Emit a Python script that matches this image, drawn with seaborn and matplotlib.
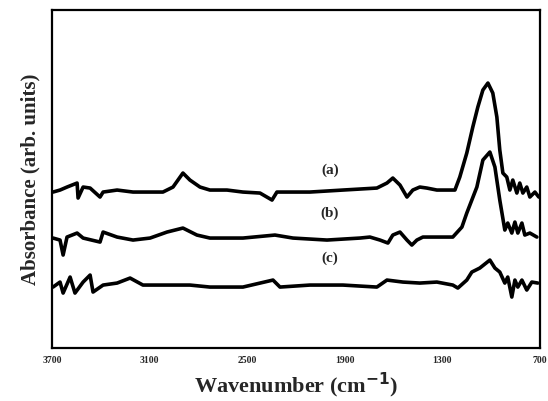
import matplotlib
matplotlib.use("Agg")
import matplotlib.pyplot as plt
import pandas as pd
import seaborn as sns

# spectra (wavenumber in cm-1, absorbance in arb. units, stacked)
wn_a = [3694, 3651, 3608, 3546, 3540, 3509, 3466, 3405, 3386, 3300, 3202, 3097, 3018, 2956,
        2895, 2852, 2790, 2729, 2624, 2526, 2421, 2347, 2317, 2218, 2114, 1911, 1702, 1640,
        1604, 1560, 1517, 1481, 1438, 1395, 1333, 1222, 1192, 1149, 1112, 1081, 1050, 1019,
        989, 964, 946, 927, 903, 884, 866, 841, 823, 804, 780, 761, 730, 706]
abs_a = [1.56, 1.58, 1.61, 1.65, 1.50, 1.61, 1.60, 1.51, 1.56, 1.58, 1.56, 1.56, 1.56, 1.61,
         1.75, 1.68, 1.61, 1.58, 1.58, 1.56, 1.55, 1.48, 1.56, 1.56, 1.56, 1.58, 1.60, 1.65,
         1.70, 1.63, 1.51, 1.58, 1.61, 1.60, 1.58, 1.58, 1.71, 1.95, 2.21, 2.41, 2.58, 2.65,
         2.55, 2.31, 1.98, 1.75, 1.71, 1.58, 1.68, 1.55, 1.65, 1.55, 1.61, 1.51, 1.56, 1.51]

wn_b = [3694, 3651, 3632, 3608, 3546, 3509, 3405, 3386, 3300, 3202, 3097, 2993, 2895, 2809,
        2729, 2526, 2329, 2218, 2009, 1806, 1745, 1683, 1634, 1604, 1560, 1517, 1487, 1456,
        1419, 1333, 1235, 1179, 1149, 1118, 1087, 1050, 1007, 976, 946, 915, 897, 872, 853,
        835, 810, 792, 761, 718]
abs_b = [1.10, 1.08, 0.93, 1.11, 1.15, 1.10, 1.06, 1.16, 1.11, 1.08, 1.10, 1.16, 1.20, 1.13,
         1.10, 1.10, 1.13, 1.10, 1.08, 1.10, 1.11, 1.08, 1.05, 1.13, 1.16, 1.08, 1.03, 1.08,
         1.11, 1.11, 1.11, 1.21, 1.35, 1.48, 1.61, 1.88, 1.96, 1.81, 1.48, 1.18, 1.25, 1.15,
         1.26, 1.15, 1.25, 1.13, 1.15, 1.11]

wn_c = [3694, 3651, 3632, 3589, 3559, 3509, 3466, 3448, 3386, 3300, 3220, 3141, 2993, 2852,
        2729, 2526, 2341, 2298, 2114, 1911, 1702, 1640, 1542, 1438, 1333, 1235, 1204, 1149,
        1118, 1069, 1007, 976, 946, 915, 897, 872, 853, 835, 810, 780, 749, 712]
abs_c = [0.61, 0.66, 0.55, 0.71, 0.55, 0.66, 0.73, 0.56, 0.63, 0.65, 0.70, 0.63, 0.63, 0.63,
         0.61, 0.61, 0.68, 0.61, 0.63, 0.63, 0.61, 0.68, 0.66, 0.65, 0.66, 0.63, 0.60, 0.68,
         0.76, 0.80, 0.88, 0.80, 0.76, 0.65, 0.71, 0.51, 0.68, 0.61, 0.68, 0.58, 0.66, 0.65]

labels = ['(a)', '(b)', '(c)']
label_pos = [1.78, 1.35, 0.90]
xticks = [3700, 3100, 2500, 1900, 1300, 700]

sns.set_style('white')
plt.rcParams['font.family'] = ['Liberation Serif', 'DejaVu Serif']
plt.rcParams['font.weight'] = 'bold'
plt.rcParams['mathtext.default'] = 'bf'

frames = []
for name, wn, ab in zip(labels, [wn_a, wn_b, wn_c], [abs_a, abs_b, abs_c]):
    frames.append(pd.DataFrame({'Wavenumber': wn, 'Absorbance': ab, 'Sample': name}))
data = pd.concat(frames, ignore_index=True)

figure, axis = plt.subplots(1, 1, figsize=(5.48, 4.01), dpi=100)
figure.subplots_adjust(left=0.095, right=0.985, bottom=0.132, top=0.975)

sns.lineplot(data=data, x='Wavenumber', y='Absorbance', hue='Sample',
             palette=['black'] * 3, linewidth=2.6, sort=False, estimator=None,
             legend=False, ax=axis)

for name, ypos in zip(labels, label_pos):
    axis.text(1990, ypos, name, fontsize=11, fontweight='bold', ha='center', va='center')

axis.set_xlim(3700, 700)
axis.set_ylim(0, 3.38)
axis.set_xticks(xticks)
axis.set_xticklabels([str(t) for t in xticks], fontsize=7, fontweight='bold')
axis.set_yticks([])
axis.tick_params(axis='x', direction='in', length=3, width=1.2, pad=6)
for spine in axis.spines.values():
    spine.set_linewidth(1.6)
    spine.set_color('black')

axis.set_xlabel('Wavenumber (cm$^{-1}$)', fontsize=16, fontweight='bold', labelpad=4)
axis.set_ylabel('Absorbance (arb. units)', fontsize=15, fontweight='bold', labelpad=8)

figure.savefig('out.png', dpi=100)
